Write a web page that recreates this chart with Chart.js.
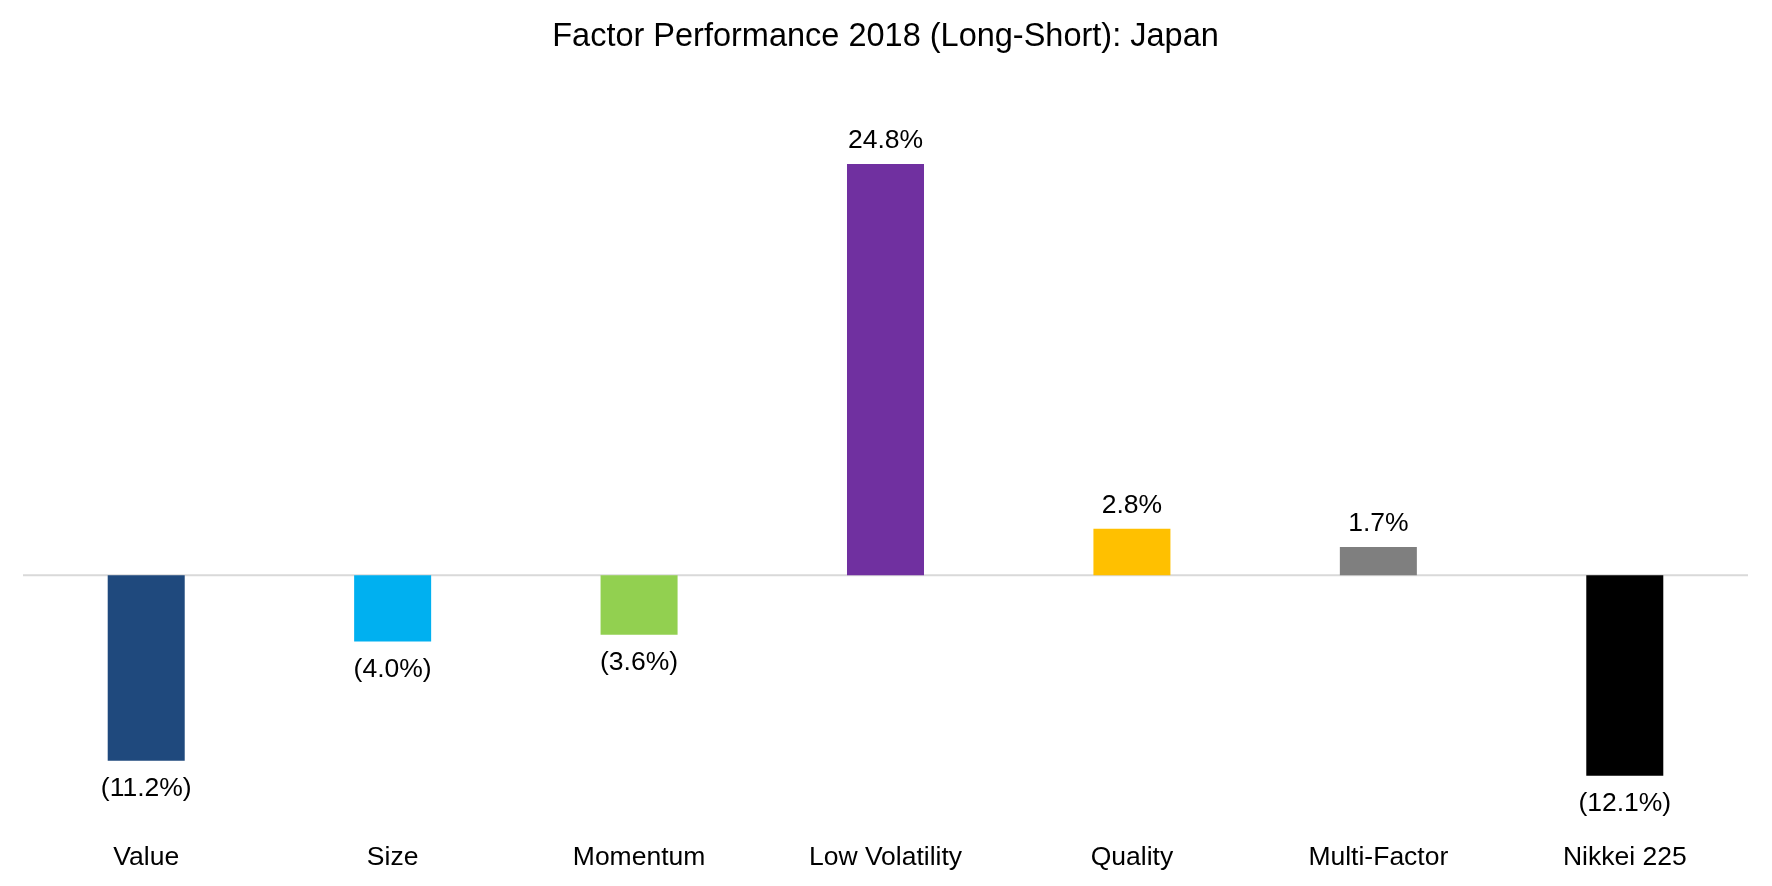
<!DOCTYPE html>
<html>
<head>
<meta charset="utf-8">
<script src="https://cdn.jsdelivr.net/npm/chart.js@4"></script>
<style>
  html, body { margin: 0; padding: 0; background: #ffffff; }
  #wrap { width: 1772px; height: 886px; }
</style>
</head>
<body>
<div id="wrap"><canvas id="c" width="1772" height="886"></canvas></div>
<script>
const categories = ["Value", "Size", "Momentum", "Low Volatility", "Quality", "Multi-Factor", "Nikkei 225"];
const values = [-11.2, -4.0, -3.6, 24.8, 2.8, 1.7, -12.1];
const barColors = ["#1F497D", "#00B0F0", "#92D050", "#7030A0", "#FFC000", "#7F7F7F", "#000000"];
const titleText = "Factor Performance 2018 (Long-Short): Japan";

const FONT = "'Liberation Sans', Arial, sans-serif";

function fmt(v) {
  const s = Math.abs(v).toFixed(1) + "%";
  return v < 0 ? "(" + s + ")" : s;
}

const zeroLine = {
  id: "zeroLine",
  beforeDatasetsDraw(chart) {
    const { ctx, chartArea, scales } = chart;
    const y = scales.y.getPixelForValue(0);
    ctx.save();
    ctx.strokeStyle = "#D9D9D9";
    ctx.lineWidth = 2;
    ctx.beginPath();
    ctx.moveTo(chartArea.left, y);
    ctx.lineTo(chartArea.right, y);
    ctx.stroke();
    ctx.restore();
  }
};

const valueLabels = {
  id: "valueLabels",
  afterDatasetsDraw(chart) {
    const { ctx } = chart;
    const meta = chart.getDatasetMeta(0);
    const data = chart.data.datasets[0].data;
    ctx.save();
    ctx.font = "26.5px " + FONT;
    ctx.fillStyle = "#000000";
    ctx.textAlign = "center";
    ctx.textBaseline = "middle";
    meta.data.forEach((bar, i) => {
      const v = data[i];
      const y = v < 0 ? bar.y + 28 : bar.y - 23;
      ctx.fillText(fmt(v), bar.x, y);
    });
    ctx.restore();
  }
};

new Chart(document.getElementById("c"), {
  type: "bar",
  data: {
    labels: categories,
    datasets: [{
      data: values,
      backgroundColor: barColors,
      borderWidth: 0,
      categoryPercentage: 1.0,
      barPercentage: 0.3125,
      clip: false
    }]
  },
  options: {
    responsive: false,
    animation: false,
    devicePixelRatio: 1,
    layout: { padding: { left: 23, right: 24, top: 0, bottom: -23 } },
    plugins: {
      legend: { display: false },
      tooltip: { enabled: false },
      title: {
        display: true,
        text: titleText,
        color: "#000000",
        font: { family: FONT, size: 32.5, weight: "normal", lineHeight: 1.2 },
        padding: { top: 18, bottom: 54 }
      }
    },
    scales: {
      x: {
        grid: { display: false, drawTicks: false },
        border: { display: false },
        ticks: {
          color: "#000000",
          font: { family: FONT, size: 26.5, lineHeight: 1.2 },
          padding: 35,
          maxRotation: 0,
          autoSkip: false
        }
      },
      y: {
        display: false,
        min: -14,
        max: 28
      }
    }
  },
  plugins: [zeroLine, valueLabels]
});
</script>
</body>
</html>
